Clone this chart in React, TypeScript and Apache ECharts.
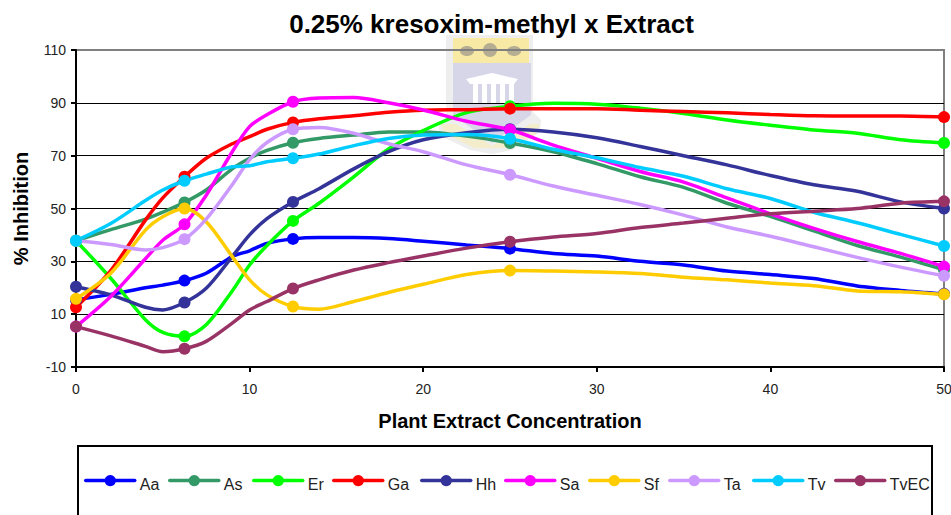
import React, { useEffect, useRef } from "react";
import * as echarts from "echarts";

const xs = [0, 2, 4, 5, 6.25, 7.5, 9, 10, 11, 12.5, 14, 16, 18, 20, 22.5, 25, 27.5, 30, 32.5, 35, 37.5, 40, 42.5, 45, 47.5, 50];
const markerXs = [0, 6.25, 12.5, 25, 50];

const Aa = [15.4, 17.5, 20, 21, 22.7, 25.5, 31.8, 34, 36.8, 38.5, 39, 39, 38.6, 37.6, 36.2, 34.8, 33, 32, 30, 28.6, 26.3, 25, 23.5, 20.7, 19, 17.7];
const As = [37.8, 42, 46, 48.6, 52.3, 57, 65, 69, 72, 74.9, 76.5, 77.8, 79, 79, 77.4, 74.8, 71.5, 67, 62, 58, 52, 47, 41.5, 36, 31.6, 26.8];
const Er = [37.8, 23.6, 7.9, 3.1, 1.6, 6, 18.8, 28.6, 36, 45.3, 52, 62, 72.5, 79.5, 86.3, 88.7, 89.8, 89.5, 88, 86, 83.5, 81.5, 79.7, 78.5, 76, 74.8];
const Ga = [12.6, 26.5, 45.6, 54, 62, 69, 74.5, 77.2, 80, 82.6, 84, 85.1, 86.4, 87.2, 87.4, 87.8, 87.8, 87.8, 87.2, 86.7, 86.2, 85.6, 85.1, 85, 85, 84.6];
const Hh = [20.4, 17.3, 12.6, 11.6, 14.4, 19.8, 31.8, 40, 46.2, 52.5, 57.5, 65, 71.5, 76, 78.7, 80, 79, 76.8, 73.5, 70, 66.5, 62.5, 59, 56.5, 52.5, 50];
const Sa = [5.3, 16.7, 31, 38, 44, 55, 71.5, 81, 85.5, 90.4, 91.8, 92, 90, 87.3, 83, 79.8, 74, 69, 64, 60, 54, 48, 42.5, 37.5, 33, 28];
const Sf = [15.8, 25.5, 41.8, 46.9, 50, 45, 31.8, 23, 17.3, 12.9, 11.9, 14.8, 18.2, 21.3, 25, 26.5, 26.3, 26, 25.4, 24, 23, 21.8, 20.8, 18.8, 18.5, 17.5];
const Ta = [37.8, 36.4, 34.3, 35.2, 38.4, 46, 59, 68.5, 75, 80, 80.7, 78.5, 74.5, 71.5, 66.5, 62.8, 58.5, 55, 51.5, 47.5, 43, 39.5, 35.5, 31.5, 27.8, 24.5];
const Tv = [37.8, 44.3, 53, 57, 60.5, 63, 65.8, 66.2, 67.7, 69, 70.6, 73.8, 76.5, 77.8, 78, 76.4, 72.4, 69.2, 65.5, 62.2, 57.5, 53.8, 48.6, 44.6, 40.2, 35.8];
const TvEC = [5.3, 1.8, -2.2, -4.2, -3.1, -0.3, 6.6, 11.6, 14.8, 19.7, 23, 26.7, 29.5, 32, 35, 37.4, 39.2, 40.5, 42.8, 44.5, 46.3, 48, 49, 50, 52, 52.7];

const names = ["Aa", "As", "Er", "Ga", "Hh", "Sa", "Sf", "Ta", "Tv", "TvEC"];
const values = [Aa, As, Er, Ga, Hh, Sa, Sf, Ta, Tv, TvEC];
const colors = ["#0000ff", "#339966", "#00ff00", "#ff0000", "#333399", "#ff00ff", "#ffcc00", "#cc99ff", "#00ccff", "#993366"];
const legendLefts = [84, 168, 252, 332, 420, 504, 588, 668, 752, 834];

const FONT = "'Liberation Sans', Arial, sans-serif";

export default function App() {
  const ref = useRef<HTMLDivElement>(null);
  useEffect(() => {
    document.body.style.margin = "0";
    const chart = echarts.init(ref.current!, undefined, { renderer: "svg" });
    const crest: any[] = [
      { type: "polygon", z: -1, silent: true, shape: { points: [[446, 35], [533, 35], [533, 112], [541, 120], [540, 132], [512, 150], [492, 154], [470, 150], [439, 135], [439, 122], [446, 118]] }, style: { fill: "#eeeeee" } },
      { type: "rect", z: -1, silent: true, shape: { x: 453, y: 38, width: 76, height: 25 }, style: { fill: "#f8eaa4" } },
      { type: "ellipse", z: -1, silent: true, shape: { cx: 467, cy: 51, rx: 7, ry: 5 }, style: { fill: "#b5ae92" } },
      { type: "ellipse", z: -1, silent: true, shape: { cx: 490, cy: 50, rx: 7, ry: 7 }, style: { fill: "#b5ae92" } },
      { type: "ellipse", z: -1, silent: true, shape: { cx: 514, cy: 51, rx: 7, ry: 5 }, style: { fill: "#b5ae92" } },
      { type: "polygon", z: -1, silent: true, shape: { points: [[453, 63], [531, 63], [531, 115], [492, 143], [453, 115]] }, style: { fill: "#d6d6e8" } },
      { type: "polygon", z: -1, silent: true, shape: { points: [[466, 79], [492, 73], [518, 79], [514, 84], [470, 84]] }, style: { fill: "#ffffff" } },
      ...[473, 482, 491, 500, 509].map((x) => ({ type: "rect", z: -1, silent: true, shape: { x, y: 84, width: 5, height: 20 }, style: { fill: "#ffffff" } })),
      { type: "polygon", z: -1, silent: true, shape: { points: [[440, 124], [456, 124], [492, 146], [530, 124], [540, 124], [536, 134], [510, 148], [474, 148], [446, 134]] }, style: { fill: "#f3edcb" } },
      { type: "rect", z: 5, silent: true, shape: { x: 78, y: 446, width: 854, height: 110 }, style: { fill: "rgba(0,0,0,0)", stroke: "#000000", lineWidth: 2 } },
    ];
    chart.setOption({
      animation: false,
      backgroundColor: "#ffffff",
      title: {
        text: "0.25% kresoxim-methyl x Extract",
        left: 486.5,
        textAlign: "center",
        top: 6,
        textStyle: { fontFamily: FONT, fontSize: 26, fontWeight: "bold", color: "#000000" },
      },
      graphic: crest,
      grid: { left: 76, top: 50, width: 868, height: 317, outerBoundsMode: "none", show: true, borderColor: "#808080", borderWidth: 2, backgroundColor: "transparent" },
      xAxis: {
        type: "value",
        min: 0,
        max: 50,
        interval: 10,
        name: "Plant Extract Concentration",
        nameLocation: "middle",
        nameGap: 44,
        nameTextStyle: { fontFamily: FONT, fontSize: 20, fontWeight: "bold", color: "#000000" },
        axisLine: { onZero: false, lineStyle: { color: "#000000", width: 2 } },
        axisTick: { length: 5, lineStyle: { color: "#000000", width: 2 } },
        axisLabel: { fontFamily: FONT, fontSize: 14, color: "#222222", margin: 15 },
        splitLine: { show: false },
      },
      yAxis: {
        type: "value",
        min: -10,
        max: 110,
        interval: 20,
        name: "% Inhibition",
        nameLocation: "middle",
        nameGap: 45,
        nameTextStyle: { fontFamily: FONT, fontSize: 20, fontWeight: "bold", color: "#000000" },
        axisLine: { lineStyle: { color: "#000000", width: 2 } },
        axisTick: { length: 5, lineStyle: { color: "#000000", width: 2 } },
        axisLabel: { fontFamily: FONT, fontSize: 14, color: "#222222", margin: 10 },
        splitLine: { show: true, showMinLine: false, showMaxLine: false, lineStyle: { color: "#000000", width: 1 } },
      },
      legend: names.map((name, i) => ({
        data: [name],
        left: legendLefts[i],
        top: 475,
        padding: 0,
        itemWidth: 49,
        itemHeight: 14,
        selectedMode: false,
        lineStyle: { width: 3.5, cap: "round" },
        formatter: (n: string) => `{t|${n}}`,
        textStyle: {
          rich: { t: { fontFamily: FONT, fontSize: 16, color: "#222222", padding: [7, 0, 0, 0] } },
        },
      })),
      series: names.map((name, i) => ({
        name,
        type: "line",
        smooth: 0.3,
        clip: false,
        symbol: "circle",
        symbolSize: 12,
        showAllSymbol: true,
        color: colors[i],
        lineStyle: { color: colors[i], width: 3.5, cap: "round" },
        itemStyle: { color: colors[i] },
        data: xs.map((x, j) => (markerXs.includes(x) ? { value: [x, values[i][j]] } : { value: [x, values[i][j]], symbol: "none" })),
      })),
    });
    return () => chart.dispose();
  }, []);
  return <div ref={ref} style={{ width: 951, height: 515 }} />;
}
